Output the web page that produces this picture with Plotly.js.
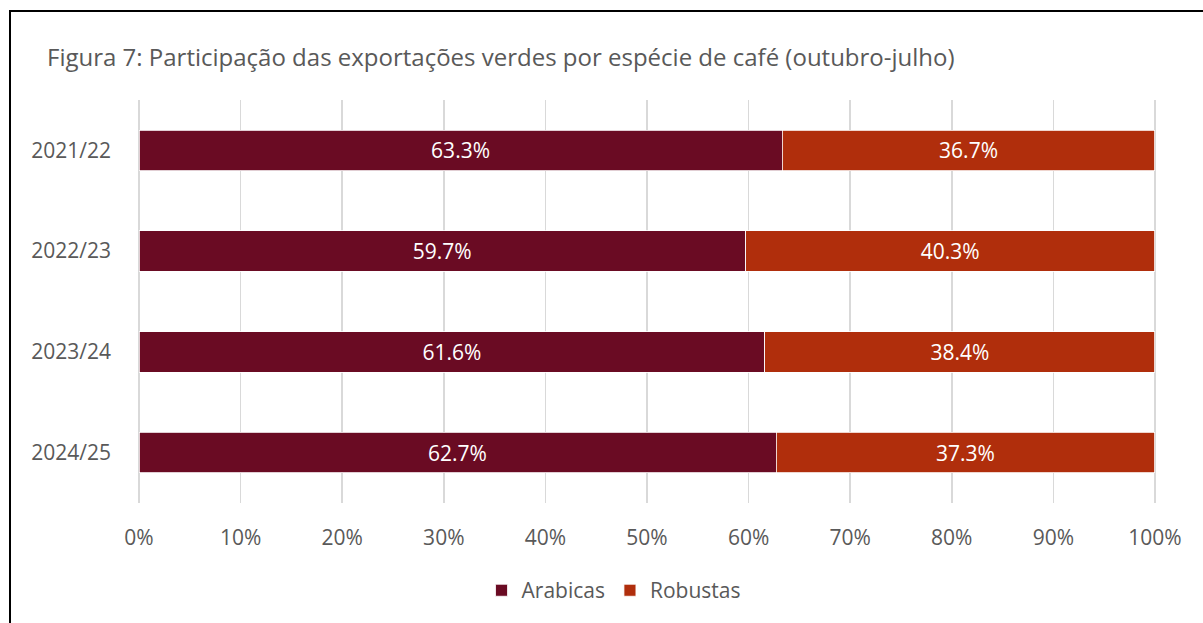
<!DOCTYPE html>
<html>
<head>
<meta charset="utf-8">
<script src="https://cdn.plot.ly/plotly-3.0.1.min.js"></script>
<style>
html,body{margin:0;padding:0;background:#fff;}
#frame{position:absolute;left:9px;top:10px;width:1200px;height:620px;border-left:2px solid #000;border-top:2px solid #000;}
#chart{position:absolute;left:0;top:0;width:1203px;height:623px;}
</style>
</head>
<body>
<div id="frame"></div>
<div id="chart"></div>
<script>
const categories = ["2021/22", "2022/23", "2023/24", "2024/25"];
const arabicas = [63.3, 59.7, 61.6, 62.7];
const robustas = [36.7, 40.3, 38.4, 37.3];
const tickVals = [0, 10, 20, 30, 40, 50, 60, 70, 80, 90, 100];
const tickText = ["0%", "10%", "20%", "30%", "40%", "50%", "60%", "70%", "80%", "90%", "100%"];

const FONT = "'Open Sans', 'Noto Sans', sans-serif";
const GREY = "#595959";

function mk(name, vals, color) {
  return {
    type: "bar", orientation: "h", name: name,
    y: categories, x: vals,
    text: vals.map(v => v.toFixed(1) + "%"),
    textposition: "inside", insidetextanchor: "middle",
    textfont: {family: FONT, size: 21, color: "#ffffff"},
    marker: {color: color, line: {color: "#ffffff", width: 0.8}},
    hoverinfo: "skip"
  };
}

const data = [mk("Arabicas", arabicas, "#6a0b23"), mk("Robustas", robustas, "#b02e0c")];

const layout = {
  width: 1203, height: 623,
  paper_bgcolor: "rgba(0,0,0,0)", plot_bgcolor: "rgba(0,0,0,0)",
  barmode: "stack", bargap: 0.6,
  margin: {l: 138, r: 47, t: 100, b: 120},
  font: {family: FONT, color: GREY},
  title: {text: "Figura 7: Participação das exportações verdes por espécie de café (outubro-julho)",
          x: 47 / 1203, xref: "container", xanchor: "left", y: 0.908, yanchor: "middle",
          font: {family: FONT, size: 24, color: GREY}},
  xaxis: {range: [-0.1, 100.1], tickvals: tickVals, ticktext: tickText,
          showgrid: true, gridcolor: "#d9d9d9", gridwidth: 1.5, zeroline: false,
          showline: false, ticks: "", ticklabelstandoff: 20,
          tickfont: {family: FONT, size: 21, color: GREY}, fixedrange: true},
  yaxis: {categoryorder: "array", categoryarray: categories, autorange: "reversed",
          showgrid: false, zeroline: false, showline: false, ticks: "",
          ticklabelstandoff: 26,
          tickfont: {family: FONT, size: 21, color: GREY}, fixedrange: true},
  showlegend: true,
  legend: {orientation: "h", x: 0.51, xanchor: "center", xref: "container",
           y: 0.052, yref: "container", yanchor: "middle",
           font: {family: FONT, size: 21, color: GREY}, traceorder: "normal",
           itemwidth: 30}
};

Plotly.newPlot("chart", data, layout, {displayModeBar: false, staticPlot: true});
</script>
</body>
</html>
